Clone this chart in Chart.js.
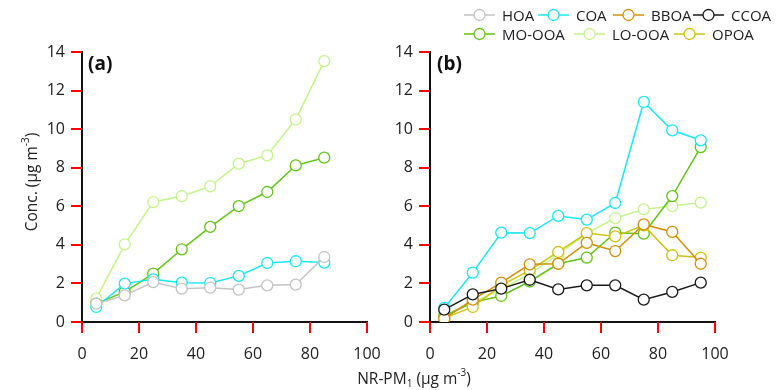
<!DOCTYPE html>
<html>
<head>
<meta charset="utf-8">
<script src="https://cdn.jsdelivr.net/npm/chart.js@4.4.1/dist/chart.umd.min.js"></script>
<style>
  html, body { margin: 0; padding: 0; background: #fff; }
  #wrap { position: relative; width: 777px; height: 390px; font-family: 'Open Sans', 'Noto Sans', sans-serif; color: #222; overflow: hidden; }
  canvas { position: absolute; top: 0; }
  #chartA { left: 32px; }
  #chartB { left: 380px; }
  .panel-tag { position: absolute; top: 50px; font-size: 19px; font-weight: bold; color: #111; }
  .ytitle { position: absolute; left: 30px; top: 182px; transform: translate(-50%, -50%) rotate(-90deg); white-space: nowrap; font-size: 15.5px; color: #222; }
  .xtitle { position: absolute; left: 414px; top: 377px; transform: translate(-50%, -50%); white-space: nowrap; font-size: 15.5px; }
  sup, sub { font-size: 10px; }
  sup { vertical-align: 8px; }
  sub { vertical-align: -3px; }
  .leg { position: absolute; display: flex; align-items: center; height: 18px; font-size: 15px; white-space: nowrap; }
  .leg svg { margin-right: 7px; }
  .tick { position: absolute; background: #f00; z-index: 5; }
</style>
</head>
<body>
<div id="wrap">
  <canvas id="chartA" width="395" height="390"></canvas>
  <canvas id="chartB" width="397" height="390"></canvas>
  <div class="panel-tag" style="left:88px">(a)</div>
  <div class="panel-tag" style="left:437px">(b)</div>
  <div class="ytitle">Conc. (µg m<sup>-3</sup>)</div>
  <div class="xtitle">NR-PM<sub>1</sub> (µg m<sup>-3</sup>)</div>
  <div id="legend"></div>
</div>
<script>
// ── Data ────────────────────────────────────────────────────────────────────
const xTicks = [0, 20, 40, 60, 80, 100];
const yTicks = [0, 2, 4, 6, 8, 10, 12, 14];

const binsA = [5, 15, 25, 35, 45, 55, 65, 75, 85];
const binsB = [5, 15, 25, 35, 45, 55, 65, 75, 85, 95];

// panel (a)
const hoaA  = [0.95, 1.38, 2.07, 1.73, 1.78, 1.68, 1.90, 1.94, 3.37];
const coaA  = [0.78, 1.99, 2.21, 2.04, 2.02, 2.39, 3.06, 3.15, 3.08];
const mooaA = [0.95, 1.56, 2.51, 3.77, 4.93, 6.01, 6.74, 8.12, 8.52];
const looaA = [1.21, 4.03, 6.22, 6.52, 7.03, 8.21, 8.64, 10.51, 13.53];

// panel (b)
const coaB  = [0.73, 2.56, 4.63, 4.61, 5.50, 5.31, 6.17, 11.41, 9.94, 9.42];
const bboaB = [0.17, 1.16, 2.04, 2.99, 3.02, 4.10, 3.68, 5.06, 4.67, 3.02];
const ccoaB = [0.64, 1.43, 1.73, 2.19, 1.69, 1.90, 1.90, 1.16, 1.56, 2.04];
const mooaB = [0.30, 1.02, 1.35, 2.10, 3.02, 3.34, 4.63, 4.58, 6.53, 9.07];
const looaB = [0.35, 1.00, 1.70, 2.50, 3.50, 4.60, 5.39, 5.84, 6.01, 6.19];
const opoaB = [0.20, 0.78, 1.90, 2.68, 3.63, 4.61, 4.44, 5.01, 3.46, 3.34];

const factorNames = ['HOA', 'COA', 'BBOA', 'CCOA', 'MO-OOA', 'LO-OOA', 'OPOA'];

// ── Styles ──────────────────────────────────────────────────────────────────
const colors = {
    'HOA': '#c4c4c4',
    'COA': '#18e8f4',
    'BBOA': '#d4900c',
    'CCOA': '#1a1a1a',
    'MO-OOA': '#62c418',
    'LO-OOA': '#c4f48c',
    'OPOA': '#cfc20e'
};

const FONT = "'Open Sans', 'Noto Sans', sans-serif";
const TICK_LEN = 11;

function series(name, xs, ys) {
    return {
        label: name,
        data: xs.map((x, i) => ({ x: x, y: ys[i] })),
        borderColor: colors[name],
        backgroundColor: colors[name],
        borderWidth: 1.5,
        pointRadius: 5.5,
        pointBorderWidth: 1.3,
        pointBackgroundColor: '#fff',
        pointBorderColor: colors[name],
        tension: 0
    };
}

function axis(extra) {
    return Object.assign({
        type: 'linear',
        grid: { drawOnChartArea: false, drawTicks: false },
        border: { display: true, color: '#111', width: 2 },
        ticks: { font: { family: FONT, size: 16 }, color: '#222' }
    }, extra);
}

// both panels share one layout: 50px y-axis box, 285px plot width
function makePanel(canvasId, datasets, padRight) {
    const ctx = document.getElementById(canvasId).getContext('2d');
    return new Chart(ctx, {
        type: 'line',
        data: { datasets: datasets },
        options: {
            responsive: false,
            animation: false,
            events: [],
            layout: { autoPadding: false, padding: { top: 52, right: padRight, left: 0, bottom: 0 } },
            plugins: { legend: { display: false }, tooltip: { enabled: false } },
            scales: {
                x: axis({
                    min: 0, max: 100,
                    afterBuildTicks: s => { s.ticks = xTicks.map(v => ({ value: v })); },
                    afterFit: s => { s.height = 68; }
                }),
                y: axis({
                    min: 0, max: 14,
                    afterBuildTicks: s => { s.ticks = yTicks.map(v => ({ value: v })); },
                    afterFit: s => { s.width = 50; }
                })
            }
        }
    });
}

const panelA = makePanel('chartA', [
    series('HOA', binsA, hoaA),
    series('COA', binsA, coaA),
    series('MO-OOA', binsA, mooaA),
    series('LO-OOA', binsA, looaA)
], 60);

const panelB = makePanel('chartB', [
    series('CCOA', binsB, ccoaB),
    series('COA', binsB, coaB),
    series('BBOA', binsB, bboaB),
    series('OPOA', binsB, opoaB),
    series('MO-OOA', binsB, mooaB),
    series('LO-OOA', binsB, looaB)
], 62);

// label gaps leave room for the outward tick marks
const wrap = document.getElementById('wrap');
[panelA, panelB].forEach(ch => {
    ch.options.scales.x.ticks.padding = 23;
    ch.options.scales.y.ticks.padding = 17;
    ch.update();

    // outward tick marks, placed from the scale's own tick values
    const off = ch.canvas.offsetLeft;
    const xs = ch.scales.x, ys = ch.scales.y;
    xs.ticks.forEach(t => {
        const d = document.createElement('div');
        d.className = 'tick';
        d.style.left = Math.round(off + xs.getPixelForValue(t.value) - 1) + 'px';
        d.style.top = Math.round(xs.top) + 'px';
        d.style.width = '2px';
        d.style.height = TICK_LEN + 'px';
        wrap.appendChild(d);
    });
    ys.ticks.forEach(t => {
        const d = document.createElement('div');
        d.className = 'tick';
        d.style.left = Math.round(off + ys.right - TICK_LEN) + 'px';
        d.style.top = Math.round(ys.getPixelForValue(t.value) - 1) + 'px';
        d.style.width = TICK_LEN + 'px';
        d.style.height = '2px';
        wrap.appendChild(d);
    });
});

// ── Legend (two rows, top right) ───────────────────────────────────────────
const legendSpots = [[464, 6], [538, 6], [613, 6], [693, 6], [464, 25], [574, 25], [674, 25]];
const legendEl = document.getElementById('legend');
factorNames.forEach((name, i) => {
    const c = colors[name];
    const item = document.createElement('div');
    item.className = 'leg';
    item.style.left = legendSpots[i][0] + 'px';
    item.style.top = legendSpots[i][1] + 'px';
    item.innerHTML =
        `<svg width="31" height="14"><line x1="0" y1="7" x2="31" y2="7" stroke="${c}" stroke-width="1.5"/>` +
        `<circle cx="15.5" cy="7" r="5.5" fill="#fff" stroke="${c}" stroke-width="1.3"/></svg>` +
        `<span>${name}</span>`;
    legendEl.appendChild(item);
});
</script>
</body>
</html>
